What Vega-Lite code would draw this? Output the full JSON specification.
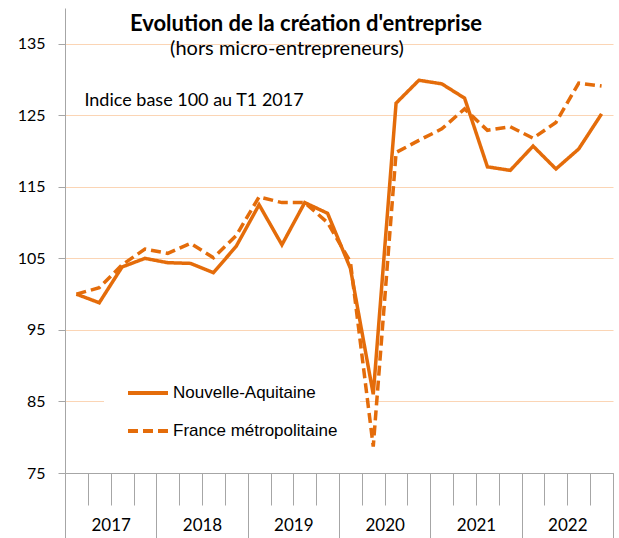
{
  "$schema": "https://vega.github.io/schema/vega-lite/v6.json",
  "width": 548,
  "height": 465,
  "autosize": {"type": "none"},
  "padding": {"left": 65, "top": 8, "right": 6, "bottom": 65},
  "background": "white",
  "title": {
    "text": "Evolution de la création d'entreprise",
    "anchor": "middle",
    "dx": -33,
    "offset": -28,
    "font": "Lato",
    "fontSize": 22,
    "fontWeight": "bold",
    "color": "black"
  },
  "data": {
    "values": [
      {"q": "2017 T1", "year": "2017", "serie": "Nouvelle-Aquitaine", "v": 100},
      {"q": "2017 T2", "year": "2017", "serie": "Nouvelle-Aquitaine", "v": 98.8},
      {"q": "2017 T3", "year": "2017", "serie": "Nouvelle-Aquitaine", "v": 103.8},
      {"q": "2017 T4", "year": "2017", "serie": "Nouvelle-Aquitaine", "v": 105.0},
      {"q": "2018 T1", "year": "2018", "serie": "Nouvelle-Aquitaine", "v": 104.4},
      {"q": "2018 T2", "year": "2018", "serie": "Nouvelle-Aquitaine", "v": 104.3},
      {"q": "2018 T3", "year": "2018", "serie": "Nouvelle-Aquitaine", "v": 103.0},
      {"q": "2018 T4", "year": "2018", "serie": "Nouvelle-Aquitaine", "v": 106.7},
      {"q": "2019 T1", "year": "2019", "serie": "Nouvelle-Aquitaine", "v": 112.5},
      {"q": "2019 T2", "year": "2019", "serie": "Nouvelle-Aquitaine", "v": 106.9},
      {"q": "2019 T3", "year": "2019", "serie": "Nouvelle-Aquitaine", "v": 112.8},
      {"q": "2019 T4", "year": "2019", "serie": "Nouvelle-Aquitaine", "v": 111.3},
      {"q": "2020 T1", "year": "2020", "serie": "Nouvelle-Aquitaine", "v": 103.6},
      {"q": "2020 T2", "year": "2020", "serie": "Nouvelle-Aquitaine", "v": 86.0},
      {"q": "2020 T3", "year": "2020", "serie": "Nouvelle-Aquitaine", "v": 126.7},
      {"q": "2020 T4", "year": "2020", "serie": "Nouvelle-Aquitaine", "v": 129.9},
      {"q": "2021 T1", "year": "2021", "serie": "Nouvelle-Aquitaine", "v": 129.4},
      {"q": "2021 T2", "year": "2021", "serie": "Nouvelle-Aquitaine", "v": 127.4},
      {"q": "2021 T3", "year": "2021", "serie": "Nouvelle-Aquitaine", "v": 117.8},
      {"q": "2021 T4", "year": "2021", "serie": "Nouvelle-Aquitaine", "v": 117.3},
      {"q": "2022 T1", "year": "2022", "serie": "Nouvelle-Aquitaine", "v": 120.7},
      {"q": "2022 T2", "year": "2022", "serie": "Nouvelle-Aquitaine", "v": 117.5},
      {"q": "2022 T3", "year": "2022", "serie": "Nouvelle-Aquitaine", "v": 120.3},
      {"q": "2022 T4", "year": "2022", "serie": "Nouvelle-Aquitaine", "v": 125.2},
      {"q": "2017 T1", "year": "2017", "serie": "France métropolitaine", "v": 100},
      {"q": "2017 T2", "year": "2017", "serie": "France métropolitaine", "v": 100.9},
      {"q": "2017 T3", "year": "2017", "serie": "France métropolitaine", "v": 104.1},
      {"q": "2017 T4", "year": "2017", "serie": "France métropolitaine", "v": 106.3},
      {"q": "2018 T1", "year": "2018", "serie": "France métropolitaine", "v": 105.7},
      {"q": "2018 T2", "year": "2018", "serie": "France métropolitaine", "v": 107.1},
      {"q": "2018 T3", "year": "2018", "serie": "France métropolitaine", "v": 105.1},
      {"q": "2018 T4", "year": "2018", "serie": "France métropolitaine", "v": 108.2},
      {"q": "2019 T1", "year": "2019", "serie": "France métropolitaine", "v": 113.6},
      {"q": "2019 T2", "year": "2019", "serie": "France métropolitaine", "v": 112.8},
      {"q": "2019 T3", "year": "2019", "serie": "France métropolitaine", "v": 112.8},
      {"q": "2019 T4", "year": "2019", "serie": "France métropolitaine", "v": 110.0},
      {"q": "2020 T1", "year": "2020", "serie": "France métropolitaine", "v": 104.5},
      {"q": "2020 T2", "year": "2020", "serie": "France métropolitaine", "v": 78.7},
      {"q": "2020 T3", "year": "2020", "serie": "France métropolitaine", "v": 119.8},
      {"q": "2020 T4", "year": "2020", "serie": "France métropolitaine", "v": 121.5},
      {"q": "2021 T1", "year": "2021", "serie": "France métropolitaine", "v": 123.1},
      {"q": "2021 T2", "year": "2021", "serie": "France métropolitaine", "v": 125.9},
      {"q": "2021 T3", "year": "2021", "serie": "France métropolitaine", "v": 122.9},
      {"q": "2021 T4", "year": "2021", "serie": "France métropolitaine", "v": 123.4},
      {"q": "2022 T1", "year": "2022", "serie": "France métropolitaine", "v": 121.8},
      {"q": "2022 T2", "year": "2022", "serie": "France métropolitaine", "v": 124.0},
      {"q": "2022 T3", "year": "2022", "serie": "France métropolitaine", "v": 129.5},
      {"q": "2022 T4", "year": "2022", "serie": "France métropolitaine", "v": 129.1}
    ]
  },
  "layer": [
    {
      "layer": [
        {
          "mark": {"type": "line", "color": "#E46C0A", "strokeWidth": 3.5, "strokeJoin": "miter"},
          "encoding": {
            "x": {
              "field": "q",
              "type": "ordinal",
              "sort": null,
              "scale": {"type": "band", "paddingInner": 0, "paddingOuter": 0},
              "axis": {
                "orient": "bottom",
                "title": null,
                "labels": false,
                "grid": false,
                "tickBand": "extent",
                "tickSize": 32,
                "tickColor": "#A6A6A6",
                "domainColor": "#A6A6A6",
                "zindex": 1
              }
            },
            "y": {
              "field": "v",
              "type": "quantitative",
              "scale": {"domain": [75, 140], "nice": false, "zero": false},
              "axis": {
                "title": null,
                "values": [75, 85, 95, 105, 115, 125, 135],
                "grid": true,
                "gridColor": "#FBD5B5",
                "gridWidth": 1,
                "tickSize": 7,
                "tickColor": "#A6A6A6",
                "domainColor": "#A6A6A6",
                "labelFont": "Lato",
                "labelFontSize": 16,
                "labelColor": "black",
                "labelPadding": 13
              }
            },
            "strokeDash": {
              "field": "serie",
              "type": "nominal",
              "scale": {
                "domain": ["Nouvelle-Aquitaine", "France métropolitaine"],
                "range": [[1, 0], [10, 5]]
              },
              "legend": {
                "title": null,
                "orient": "none",
                "legendX": 39,
                "legendY": 341,
                "fillColor": "white",
                "padding": 22,
                "symbolType": "stroke",
                "symbolSize": 1600,
                "symbolStrokeWidth": 4,
                "symbolStrokeColor": "#E46C0A",
                "labelFont": "Liberation Sans",
                "labelFontSize": 17,
                "labelColor": "black",
                "labelLimit": 400,
                "labelOffset": 3,
                "rowPadding": 8
              }
            }
          }
        },
        {
          "data": {"values": [{}]},
          "mark": {"type": "text", "align": "left", "baseline": "alphabetic", "dx": 8, "font": "Lato", "fontSize": 18, "color": "black"},
          "encoding": {
            "x": {"datum": "2017 T1"},
            "y": {"datum": 126.3},
            "text": {"value": "Indice base 100 au T1 2017"}
          }
        },
        {
          "data": {"values": [{}]},
          "mark": {"type": "text", "align": "center", "baseline": "alphabetic", "dx": 5, "font": "Lato", "fontSize": 20, "color": "black"},
          "encoding": {
            "x": {"datum": "2019 T2"},
            "y": {"datum": 133.4},
            "text": {"value": "(hors micro-entrepreneurs)"}
          }
        }
      ]
    },
    {
      "mark": {"type": "point", "opacity": 0},
      "encoding": {
        "x": {
          "field": "year",
          "type": "ordinal",
          "scale": {"type": "band", "paddingInner": 0, "paddingOuter": 0},
          "axis": {
            "orient": "bottom",
            "title": null,
            "grid": false,
            "domain": false,
            "tickBand": "extent",
            "tickSize": 65,
            "tickColor": "#A6A6A6",
            "labelFont": "Lato",
            "labelFontSize": 17,
            "labelColor": "black",
            "labelPadding": -21,
            "labelAngle": 0,
            "zindex": 1
          }
        }
      }
    }
  ],
  "resolve": {"scale": {"x": "independent"}},
  "config": {"view": {"stroke": null}}
}
